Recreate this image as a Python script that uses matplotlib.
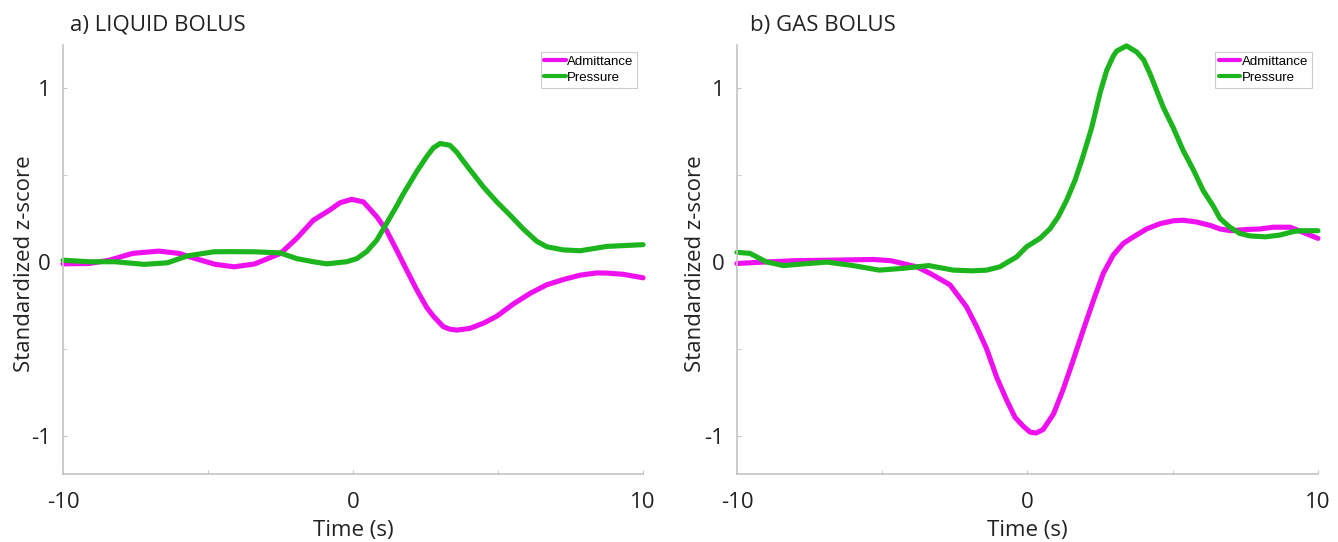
import matplotlib.pyplot as plt

# Tiempo (s) y z-score
liquid_adm_t = [-10, -9.1, -8.4, -7.6, -6.7, -6.0, -5.45, -4.75, -4.1, -3.4, -2.5, -1.94, -1.37,
                -0.79, -0.45, -0.05, 0.36, 0.82, 1.16, 1.5, 1.85, 2.2, 2.54, 2.77, 3.11, 3.34,
                3.58, 4.03, 4.5, 4.96, 5.53, 6.1, 6.68, 7.25, 7.83, 8.4, 8.75, 9.32, 10]
liquid_adm_z = [-0.01, -0.008, 0.011, 0.05, 0.063, 0.05, 0.021, -0.013, -0.027, -0.011, 0.05,
                0.136, 0.24, 0.30, 0.34, 0.36, 0.345, 0.26, 0.18, 0.07, -0.046, -0.16, -0.26,
                -0.31, -0.37, -0.385, -0.39, -0.38, -0.35, -0.31, -0.24, -0.18, -0.13, -0.10,
                -0.075, -0.062, -0.063, -0.07, -0.09]

liquid_pres_t = [-10, -9.1, -8.2, -7.2, -6.4, -5.7, -4.8, -4.2, -3.4, -2.52, -1.94, -1.37,
                 -0.91, -0.22, 0.13, 0.47, 0.82, 1.5, 1.73, 2.2, 2.54, 2.77, 3.0, 3.34, 3.58,
                 3.8, 4.03, 4.5, 4.96, 5.41, 5.87, 6.33, 6.68, 7.25, 7.83, 8.75, 10]
liquid_pres_z = [0.011, 0.002, 0.002, -0.013, -0.004, 0.036, 0.059, 0.06, 0.059, 0.053, 0.02,
                 0.002, -0.01, 0.002, 0.02, 0.06, 0.126, 0.32, 0.39, 0.52, 0.605, 0.655, 0.68,
                 0.67, 0.63, 0.58, 0.53, 0.43, 0.345, 0.27, 0.19, 0.12, 0.088, 0.07, 0.065,
                 0.09, 0.10]

gas_adm_t = [-10, -9.1, -8.0, -6.8, -5.3, -4.7, -4.0, -3.81, -3.35, -2.67, -2.1, -1.75, -1.4,
             -1.06, -0.72, -0.43, -0.15, 0.09, 0.3, 0.54, 0.9, 1.23, 1.58, 1.92, 2.27, 2.61,
             2.95, 3.3, 3.65, 4.1, 4.56, 5.02, 5.36, 5.82, 6.3, 6.63, 7.0, 7.55, 8.0, 8.46,
             9.04, 9.5, 10]
gas_adm_z = [-0.008, 0.0, 0.008, 0.011, 0.015, 0.008, -0.02, -0.027, -0.065, -0.13, -0.256,
             -0.37, -0.5, -0.66, -0.79, -0.89, -0.94, -0.975, -0.98, -0.96, -0.87, -0.73,
             -0.56, -0.39, -0.22, -0.065, 0.04, 0.107, 0.145, 0.19, 0.22, 0.237, 0.24, 0.23,
             0.21, 0.19, 0.18, 0.187, 0.19, 0.20, 0.20, 0.17, 0.136]

gas_pres_t = [-10, -9.55, -9.0, -8.4, -7.7, -6.9, -6.0, -5.1, -4.3, -3.4, -2.55, -1.9, -1.4,
              -0.95, -0.37, -0.03, 0.43, 0.77, 1.06, 1.35, 1.64, 1.9, 2.21, 2.5, 2.73, 2.95,
              3.07, 3.41, 3.76, 4.0, 4.22, 4.67, 5.02, 5.36, 5.71, 6.05, 6.4, 6.63, 6.97,
              7.3, 7.66, 8.2, 8.69, 9.15, 9.38, 10]
gas_pres_z = [0.056, 0.05, 0.002, -0.02, -0.01, 0.0, -0.02, -0.046, -0.036, -0.02, -0.046,
              -0.05, -0.046, -0.027, 0.03, 0.088, 0.136, 0.19, 0.26, 0.355, 0.47, 0.6, 0.77,
              0.97, 1.10, 1.18, 1.21, 1.24, 1.205, 1.16, 1.08, 0.89, 0.77, 0.64, 0.53,
              0.41, 0.32, 0.25, 0.20, 0.165, 0.15, 0.145, 0.155, 0.175, 0.18, 0.18]

ADM_COLOR = '#ee10ee'
PRES_COLOR = '#1db51d'
AXIS_GRAY = '#c4c4c4'
TEXT_COLOR = '#222222'

plt.rcParams['font.family'] = ['Open Sans', 'DejaVu Sans']


def plot_panel(ax, adm_t, adm_z, pres_t, pres_z, ylabel_x):
    ax.plot(adm_t, adm_z, color=ADM_COLOR, lw=3.7, label='Admittance',
            solid_capstyle='round', solid_joinstyle='round', clip_on=False)
    ax.plot(pres_t, pres_z, color=PRES_COLOR, lw=3.7, label='Pressure',
            solid_capstyle='round', solid_joinstyle='round', clip_on=False)

    ax.set_xlim(-10, 10)
    ax.set_ylim(-1.215, 1.245)

    for side in ('top', 'right'):
        ax.spines[side].set_visible(False)
    for side in ('left', 'bottom'):
        ax.spines[side].set_color(AXIS_GRAY)
        ax.spines[side].set_linewidth(1.2)

    # solo -10, 0, 10 y -1, 0, 1 llevan etiqueta
    ax.set_xticks([-10, 0, 10])
    ax.set_xticks([-5, 5], minor=True)
    ax.set_yticks([-1, 0, 1])
    ax.set_yticks([-0.5, 0.5], minor=True)
    ax.set_xticklabels(['-10', '0', '10'])
    ax.set_yticklabels(['-1', '0', '1'])
    ax.tick_params(which='both', direction='in', length=3, color=AXIS_GRAY,
                   labelsize=16, labelcolor=TEXT_COLOR)
    ax.tick_params(axis='x', pad=13)
    ax.tick_params(axis='y', pad=9)

    ax.set_xlabel('Time (s)', fontsize=16, color=TEXT_COLOR, labelpad=5)
    ax.set_ylabel('Standardized z-score', fontsize=16, color=TEXT_COLOR)
    ax.yaxis.set_label_coords(ylabel_x, 0.49)

    leg = ax.legend(loc='upper right', bbox_to_anchor=(0.99, 0.984), borderaxespad=0,
                    prop={'family': 'Liberation Sans', 'size': 9.5}, handlelength=1.6,
                    handletextpad=0.1, labelspacing=0.25, borderpad=0.3,
                    fancybox=False, framealpha=1)
    leg.get_frame().set_edgecolor('#cccccc')
    leg.get_frame().set_linewidth(0.8)
    for line in leg.get_lines():
        line.set_linewidth(3)


fig = plt.figure(figsize=(13.38, 5.42), dpi=100)
ax_liquid = fig.add_axes([0.0471, 0.1255, 0.4335, 0.7915])
ax_gas = fig.add_axes([0.5508, 0.1255, 0.4342, 0.7915])

plot_panel(ax_liquid, liquid_adm_t, liquid_adm_z, liquid_pres_t, liquid_pres_z, -0.048)
plot_panel(ax_gas, gas_adm_t, gas_adm_z, gas_pres_t, gas_pres_z, -0.053)

fig.text(70 / 1338, 1 - 25 / 542, 'a) LIQUID BOLUS', fontsize=16, va='center', color=TEXT_COLOR)
fig.text(750 / 1338, 1 - 25 / 542, 'b) GAS BOLUS', fontsize=16, va='center', color=TEXT_COLOR)

fig.savefig('out.png', dpi=100, facecolor='white')
